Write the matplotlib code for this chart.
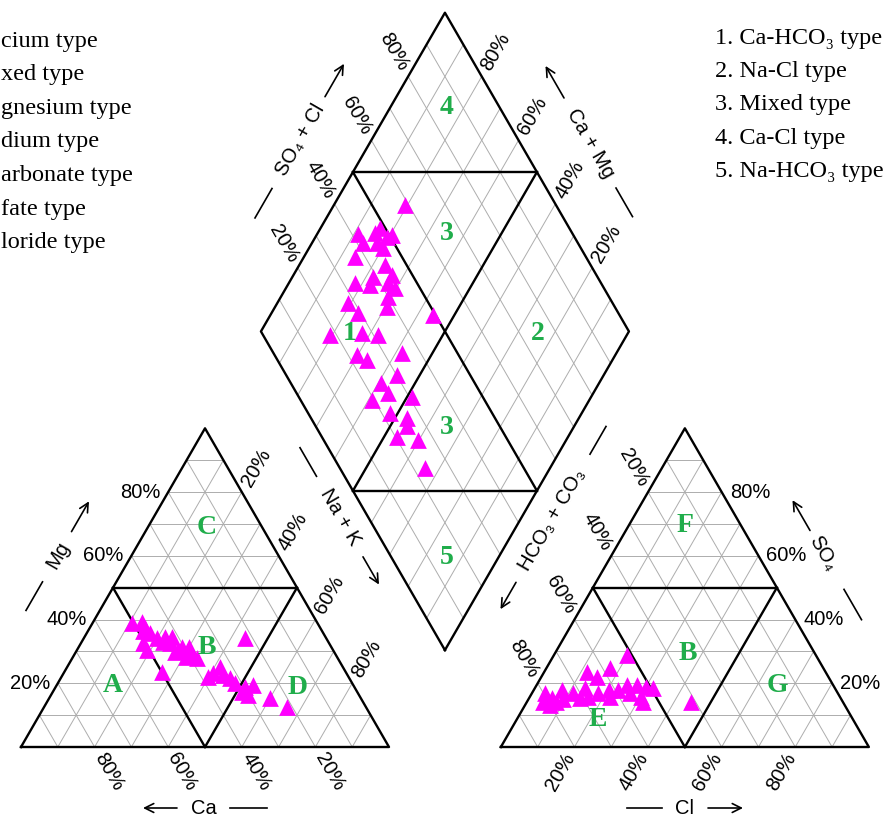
import numpy as np
import matplotlib
matplotlib.use("Agg")
import matplotlib.pyplot as plt

# ---------------- data (percent) ----------------
# cation triangle samples
cat_Ca = [50.5, 47.6, 47.7, 47.1, 50.5, 50.6, 46.1, 43.6, 41.7, 43.3, 43.3, 40.5, 38.7, 39.1, 38.4,
          40.9, 50.0, 22.1, 36.2, 33.3, 33.7, 32.4, 31.8, 29.7, 27.1, 30.1, 24.6, 21.5, 38.0, 31.3,
          48.5, 45.0, 42.0]
cat_Mg = [38.8, 39.3, 37.2, 35.7, 32.5, 30.4, 34.1, 34.6, 34.6, 32.5, 29.9, 31.5, 31.5, 28.9, 27.8,
          28.3, 23.6, 34.1, 23.1, 25.2, 22.6, 21.6, 20.0, 18.9, 19.5, 16.3, 15.3, 12.6, 22.1, 17.4,
          36.5, 33.0, 30.5]
# anion triangle samples
an_Cl = [19.7, 11.5, 17.2, 15.0, 3.6, 6.2, 7.6, 4.4, 11.2, 13.6, 15.8, 20.3, 23.0, 24.5, 27.2,
         30.1, 32.2, 30.3, 26.7, 21.7, 44.7, 8.0, 13.9, 31.6, 6.7, 9.5, 18.0]
an_SO4 = [28.9, 23.6, 24.7, 22.1, 16.8, 15.3, 17.9, 14.2, 16.8, 18.4, 15.8, 17.9, 17.9, 19.5, 19.5,
          18.9, 18.4, 15.8, 16.8, 15.8, 14.2, 14.2, 15.3, 14.2, 13.2, 15.0, 17.0]
# diamond samples
dia_NaK = [19.3, 11.1, 14.0, 15.6, 16.2, 19.3, 20.4, 17.6, 20.2, 13.8, 23.3, 26.6, 21.9, 22.3, 18.0,
           27.0, 29.6, 29.1, 19.3, 23.6, 30.3, 44.2, 19.3, 27.6, 32.4, 29.7, 33.2, 41.7, 43.7, 40.9,
           44.3, 40.9, 51.2, 47.9, 53.2, 54.5, 53.4, 59.8, 66.0]
dia_SO4Cl = [59.0, 41.8, 41.6, 46.4, 48.5, 49.0, 50.6, 45.3, 46.3, 37.3, 44.1, 44.4, 39.1, 36.9, 33.1,
             42.2, 43.2, 40.0, 28.1, 29.3, 38.0, 49.4, 18.2, 27.1, 31.3, 22.3, 24.2, 34.8, 30.0, 24.6,
             24.9, 19.3, 30.7, 22.2, 26.0, 24.7, 20.4, 25.7, 23.1]

tick_vals = [20, 40, 60, 80]
legend_left = ["cium type", "xed type", "gnesium type", "dium type",
               "arbonate type", "fate type", "loride type"]
legend_right = ["1. Ca-HCO\u2083 type", "2. Na-Cl type", "3. Mixed type",
                "4. Ca-Cl type", "5. Na-HCO\u2083 type"]

# ---------------- geometry ----------------
S = np.sqrt(3) / 2
G = 0.304
RX = 1 + G
B0 = (1 + G / 2, G * S)
PX = 368.0


def tern(ox, r, t):
    return (ox + r + t / 2, t * S)


def dia(n, a):
    return (B0[0] - 0.5 * (1 - n) + 0.5 * a, B0[1] + S * (1 - n) + S * a)


def P(xp, yp):
    return ((xp - 21) / PX, (747 - yp) / PX)


fig = plt.figure(figsize=(8.89, 8.16), dpi=100)
ax = fig.add_axes([0, 0, 1, 1])
ax.set_xlim(-21 / PX, 868 / PX)
ax.set_ylim(-69 / PX, 747 / PX)
ax.axis("off")

GRID = dict(color="#adadad", lw=0.7, zorder=1)
EDGE = dict(color="black", lw=1.7, zorder=3)


def seg(p, q, **kw):
    ax.plot([p[0], q[0]], [p[1], q[1]], **kw)


SANS = ["Liberation Sans", "DejaVu Sans"]
SERIF = ["Liberation Serif", "DejaVu Serif"]
GREEN = "#20ad4b"
MAG = "#ff00ff"

for ox in (0, RX):
    for k in range(1, 10):
        f = k / 10
        seg(tern(ox, 0, f), tern(ox, 1 - f, f), **GRID)
        seg(tern(ox, f, 0), tern(ox, f, 1 - f), **GRID)
        seg(tern(ox, 1 - f, 0), tern(ox, 0, 1 - f), **GRID)
    pts = [tern(ox, 0, 0), tern(ox, 1, 0), tern(ox, 0, 1), tern(ox, 0, 0)]
    ax.plot([p[0] for p in pts], [p[1] for p in pts], **EDGE)
    seg(tern(ox, 0, .5), tern(ox, .5, .5), **EDGE)
    seg(tern(ox, .5, 0), tern(ox, 0, .5), **EDGE)
    seg(tern(ox, .5, 0), tern(ox, .5, .5), **EDGE)

for k in range(1, 10):
    f = k / 10
    seg(dia(f, 0), dia(f, 1), **GRID)
    seg(dia(0, f), dia(1, f), **GRID)
pts = [dia(1, 0), dia(0, 0), dia(0, 1), dia(1, 1), dia(1, 0)]
ax.plot([p[0] for p in pts], [p[1] for p in pts], **EDGE)
seg(dia(0, .5), dia(1, .5), **EDGE)
seg(dia(.5, 0), dia(.5, 1), **EDGE)
seg(dia(0, .5), dia(.5, 1), **EDGE)
seg(dia(.5, 0), dia(1, .5), **EDGE)

# ---------------- data points ----------------
MS = 145
ca = np.array(cat_Ca) / 100
mg = np.array(cat_Mg) / 100
xy = [tern(0, 1 - c - m, m) for c, m in zip(ca, mg)]
ax.scatter([p[0] for p in xy], [p[1] for p in xy], marker="^", s=MS, color=MAG, lw=0, zorder=5)
cl = np.array(an_Cl) / 100
so4 = np.array(an_SO4) / 100
xy = [tern(RX, c, s_) for c, s_ in zip(cl, so4)]
ax.scatter([p[0] for p in xy], [p[1] for p in xy], marker="^", s=MS, color=MAG, lw=0, zorder=5)
xy = [dia(n / 100, a / 100) for n, a in zip(dia_NaK, dia_SO4Cl)]
ax.scatter([p[0] for p in xy], [p[1] for p in xy], marker="^", s=MS, color=MAG, lw=0, zorder=5)

# ---------------- tick labels ----------------
TK = dict(fontsize=14.5, family=SANS, rotation_mode="anchor", zorder=6)
off = 8 / PX
for v in tick_vals:
    f = v / 100
    lab = f"{v}%"
    # left triangle
    p = tern(0, 0, f)
    ax.text(p[0] - off, p[1], lab, ha="right", va="center", **TK)
    p = tern(0, 1 - f, 0)
    ax.text(p[0] + 0.5 * off, p[1] - S * off, lab, ha="left", va="center", rotation=-60, **TK)
    p = tern(0, f, 1 - f)
    ax.text(p[0] + 0.5 * off, p[1] + S * off, lab, ha="left", va="center", rotation=60, **TK)
    # right triangle
    p = tern(RX, f, 0)
    ax.text(p[0] - 0.5 * off, p[1] - S * off, lab, ha="right", va="center", rotation=60, **TK)
    p = tern(RX, 0, 1 - f)
    ax.text(p[0] - 0.5 * off, p[1] + S * off, lab, ha="right", va="center", rotation=-60, **TK)
    p = tern(RX, 1 - f, f)
    ax.text(p[0] + off, p[1], lab, ha="left", va="center", **TK)
    # diamond
    p = dia(0, f)
    ax.text(p[0] - 0.5 * off, p[1] + S * off, lab, ha="right", va="center", rotation=-60, **TK)
    p = dia(1 - f, 1)
    ax.text(p[0] + 0.5 * off, p[1] + S * off, lab, ha="left", va="center", rotation=60, **TK)

# ---------------- axis titles ----------------
titles = [
    ("Ca", (204, 808), 0, (26, 63), (-27, -61)),
    ("Mg", (58, 555), 60, (-64, -31), (27, 62)),
    ("Na + K", (340, 517), -60, (-80, -47), (46, 78)),
    ("SO\u2084 + Cl", (300, 140), 60, (-90, -56), (50, 88)),
    ("Ca + Mg", (590, 143), -60, (52, 85), (-52, -89)),
    ("HCO\u2083 + CO\u2083", (552, 520), 60, (76, 108), (-72, -103)),
    ("SO\u2084", (823, 553), -60, (42, 77), (-26, -61)),
    ("Cl", (684, 808), 0, (-57, -22), (24, 59)),
]
for txt, cpx, rot, line, arr in titles:
    c = P(*cpx)
    d = (np.cos(np.radians(rot)), np.sin(np.radians(rot)))
    ax.text(c[0], c[1], txt, fontsize=14.5, family=SANS, rotation=rot,
            rotation_mode="anchor", ha="center", va="center", zorder=6)
    a0 = (c[0] + d[0] * line[0] / PX, c[1] + d[1] * line[0] / PX)
    a1 = (c[0] + d[0] * line[1] / PX, c[1] + d[1] * line[1] / PX)
    seg(a0, a1, color="black", lw=1.2, zorder=6)
    b0 = (c[0] + d[0] * arr[0] / PX, c[1] + d[1] * arr[0] / PX)
    b1 = (c[0] + d[0] * arr[1] / PX, c[1] + d[1] * arr[1] / PX)
    ax.annotate("", xy=b1, xytext=b0,
                arrowprops=dict(arrowstyle="->", lw=1.2, color="black",
                                mutation_scale=16, shrinkA=0, shrinkB=0), zorder=6)

# ---------------- region labels ----------------
regions = [("A", (113, 685)), ("B", (207, 648)), ("C", (207, 527)), ("D", (298, 687)),
           ("F", (685, 525)), ("B", (688, 653)), ("G", (777, 685)), ("E", (598, 720)),
           ("4", (447, 107)), ("3", (447, 233)), ("1", (350, 333)), ("2", (538, 333)),
           ("3", (447, 428)), ("5", (447, 557))]
for t, cpx in regions:
    c = P(*cpx)
    ax.text(c[0], c[1], t, fontsize=20, family=SERIF, weight="bold", color=GREEN,
            ha="center", va="center", zorder=7)

# ---------------- legends ----------------
for i, t in enumerate(legend_left):
    c = P(1, 46.7 + 33.6 * i)
    ax.text(c[0], c[1], t, fontsize=17.5, family=SERIF, ha="left", va="baseline")
for i, t in enumerate(legend_right):
    c = P(715, 44 + 33.2 * i)
    ax.text(c[0], c[1], t, fontsize=17.5, family=SERIF, ha="left", va="baseline")

fig.savefig("out.png", dpi=100)
